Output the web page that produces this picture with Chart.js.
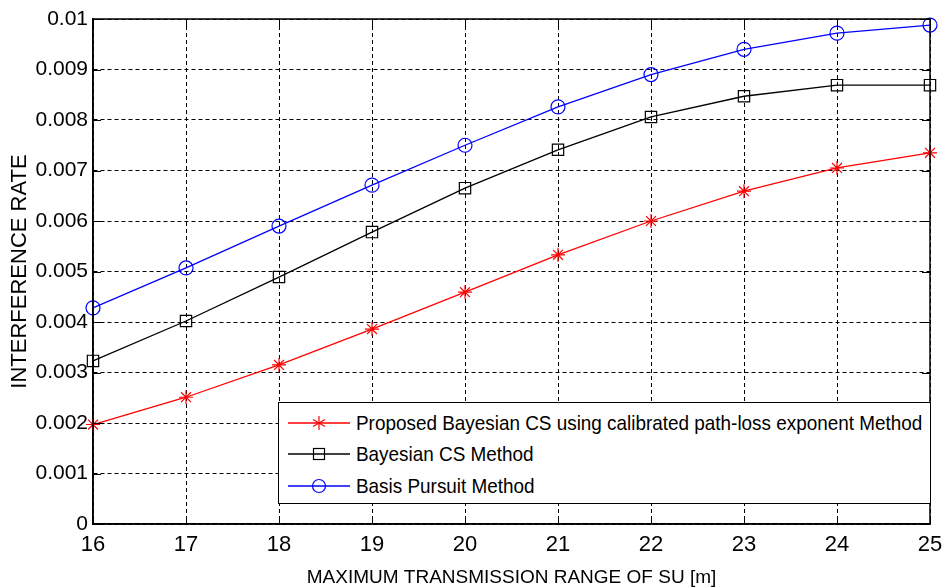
<!DOCTYPE html>
<html>
<head>
<meta charset="utf-8">
<script src="https://cdn.jsdelivr.net/npm/chart.js@4.4.1/dist/chart.umd.min.js"></script>
<style>
  html, body { margin: 0; padding: 0; background: #fff; }
  #wrap { position: relative; width: 942px; height: 587px; }
  #legend {
    position: absolute; background: #fff; border: 1px solid #000; box-sizing: border-box;
    font-family: "Liberation Sans", Arial, sans-serif; font-size: 21px; color: #000;
  }
  .item { position: absolute; left: 0; height: 30px; display: flex; align-items: center; white-space: nowrap; }
  .item svg { margin-left: 9px; margin-right: 6px; flex: none; }
  .item span { display: inline-block; transform: scaleX(0.9); transform-origin: left center; }
</style>
</head>
<body>
<div id="wrap">
  <canvas id="chart" width="942" height="587"></canvas>
  <div id="legend"></div>
</div>
<script>
const ranges = [16, 17, 18, 19, 20, 21, 22, 23, 24, 25];
const proposedBcs = [0.00197, 0.00251, 0.00315, 0.00386, 0.00459, 0.00533, 0.00600, 0.00659, 0.00705, 0.00735];
const bayesianCs = [0.00323, 0.00402, 0.00489, 0.00578, 0.00665, 0.00741, 0.00806, 0.00847, 0.00869, 0.00869];
const basisPursuit = [0.00428, 0.00507, 0.00590, 0.00671, 0.00750, 0.00826, 0.00890, 0.00940, 0.00972, 0.00988];
const seriesNames = [
    "Proposed Bayesian CS using calibrated path-loss exponent Method",
    "Bayesian CS Method",
    "Basis Pursuit Method"
];

const FONT = "'Liberation Sans', Arial, sans-serif";

// marco y marcas interiores estilo MATLAB
const matlabFrame = {
    id: "matlabFrame",
    afterDatasetsDraw(chart) {
        const { ctx, chartArea: a, scales: { x, y } } = chart;
        ctx.save();
        ctx.strokeStyle = "#000";
        ctx.lineWidth = 1;
        ctx.beginPath();
        x.ticks.forEach(t => {
            const px = Math.round(x.getPixelForValue(t.value)) + 0.5;
            ctx.moveTo(px, a.bottom); ctx.lineTo(px, a.bottom - 8);
            ctx.moveTo(px, a.top); ctx.lineTo(px, a.top + 8);
        });
        y.ticks.forEach(t => {
            const py = Math.round(y.getPixelForValue(t.value)) + 0.5;
            ctx.moveTo(a.left, py); ctx.lineTo(a.left + 8, py);
            ctx.moveTo(a.right, py); ctx.lineTo(a.right - 8, py);
        });
        ctx.stroke();
        ctx.lineWidth = 1.5;
        ctx.strokeRect(a.left, a.top, a.right - a.left, a.bottom - a.top);
        ctx.restore();
    }
};

const toPoints = vals => vals.map((v, i) => ({ x: ranges[i], y: v }));

const chart = new Chart(document.getElementById("chart"), {
    type: "line",
    data: {
        datasets: [
            { label: seriesNames[0], data: toPoints(proposedBcs), borderColor: "#ff0000", pointStyle: "star", pointRadius: 7 },
            { label: seriesNames[1], data: toPoints(bayesianCs), borderColor: "#000000", pointStyle: "rect", pointRadius: 8 },
            { label: seriesNames[2], data: toPoints(basisPursuit), borderColor: "#0000ff", pointStyle: "circle", pointRadius: 7 }
        ].map(d => Object.assign(d, {
            borderWidth: 1.3, pointBorderColor: d.borderColor, pointBackgroundColor: "transparent",
            pointBorderWidth: 1.2, tension: 0, clip: false
        }))
    },
    options: {
        responsive: false,
        animation: false,
        layout: { padding: { top: 19, right: 12, left: 0, bottom: 0 } },
        plugins: { legend: { display: false }, tooltip: { enabled: false } },
        scales: {
            x: {
                type: "linear", min: 16, max: 25,
                afterFit: s => { s.height = 63; s.paddingLeft = 0; s.paddingRight = 0; },
                ticks: { stepSize: 1, color: "#000", padding: 8, font: { family: FONT, size: 22 } },
                grid: { color: "#000", lineWidth: 1, drawTicks: false },
                border: { display: true, color: "#000", width: 1.5, dash: [4, 3] },
                title: { display: true, text: "MAXIMUM TRANSMISSION RANGE OF SU [m]", color: "#000",
                         font: { family: FONT, size: 19, lineHeight: 1 }, padding: { top: 0, bottom: 0 } }
            },
            y: {
                type: "linear", min: 0, max: 0.01,
                afterFit: s => { s.width = 93; s.paddingTop = 0; s.paddingBottom = 0; },
                ticks: { stepSize: 0.001, color: "#000", padding: 5, font: { family: FONT, size: 21 },
                         callback: v => String(Number(v.toFixed(3))) },
                grid: { color: "#000", lineWidth: 1, drawTicks: false },
                border: { display: true, color: "#000", width: 1.5, dash: [4, 3] },
                title: { display: true, text: "INTERFERENCE RATE", color: "#000",
                         font: { family: FONT, size: 22, lineHeight: 1 }, padding: { top: 9, bottom: 0 } }
            }
        }
    },
    plugins: [matlabFrame]
});

// leyenda dentro del area del grafico
function markerSvg(style, color) {
    const c = 31, m = 10;
    let mark = "";
    if (style === "star")
        mark = `<path d="M${c} ${m - 7}V${m + 7}M${c - 6} ${m - 3.5}L${c + 6} ${m + 3.5}M${c - 6} ${m + 3.5}L${c + 6} ${m - 3.5}" stroke="${color}" stroke-width="1.2"/>`;
    else if (style === "rect")
        mark = `<rect x="${c - 5.5}" y="${m - 5.5}" width="11" height="11" fill="none" stroke="${color}" stroke-width="1.2"/>`;
    else
        mark = `<circle cx="${c}" cy="${m}" r="6.5" fill="none" stroke="${color}" stroke-width="1.2"/>`;
    return `<svg width="62" height="20"><line x1="0" y1="${m}" x2="62" y2="${m}" stroke="${color}" stroke-width="1.3"/>${mark}</svg>`;
}

const legend = document.getElementById("legend");
const area = chart.chartArea;
Object.assign(legend.style, { left: "278px", top: "402px", width: (area.right + 1 - 278) + "px", height: "102px" });
const rowTops = [5, 36, 68];
chart.data.datasets.forEach((d, i) => {
    const item = document.createElement("div");
    item.className = "item";
    item.style.top = rowTops[i] + "px";
    item.innerHTML = markerSvg(d.pointStyle, d.borderColor) + "<span>" + d.label + "</span>";
    legend.appendChild(item);
});
</script>
</body>
</html>
